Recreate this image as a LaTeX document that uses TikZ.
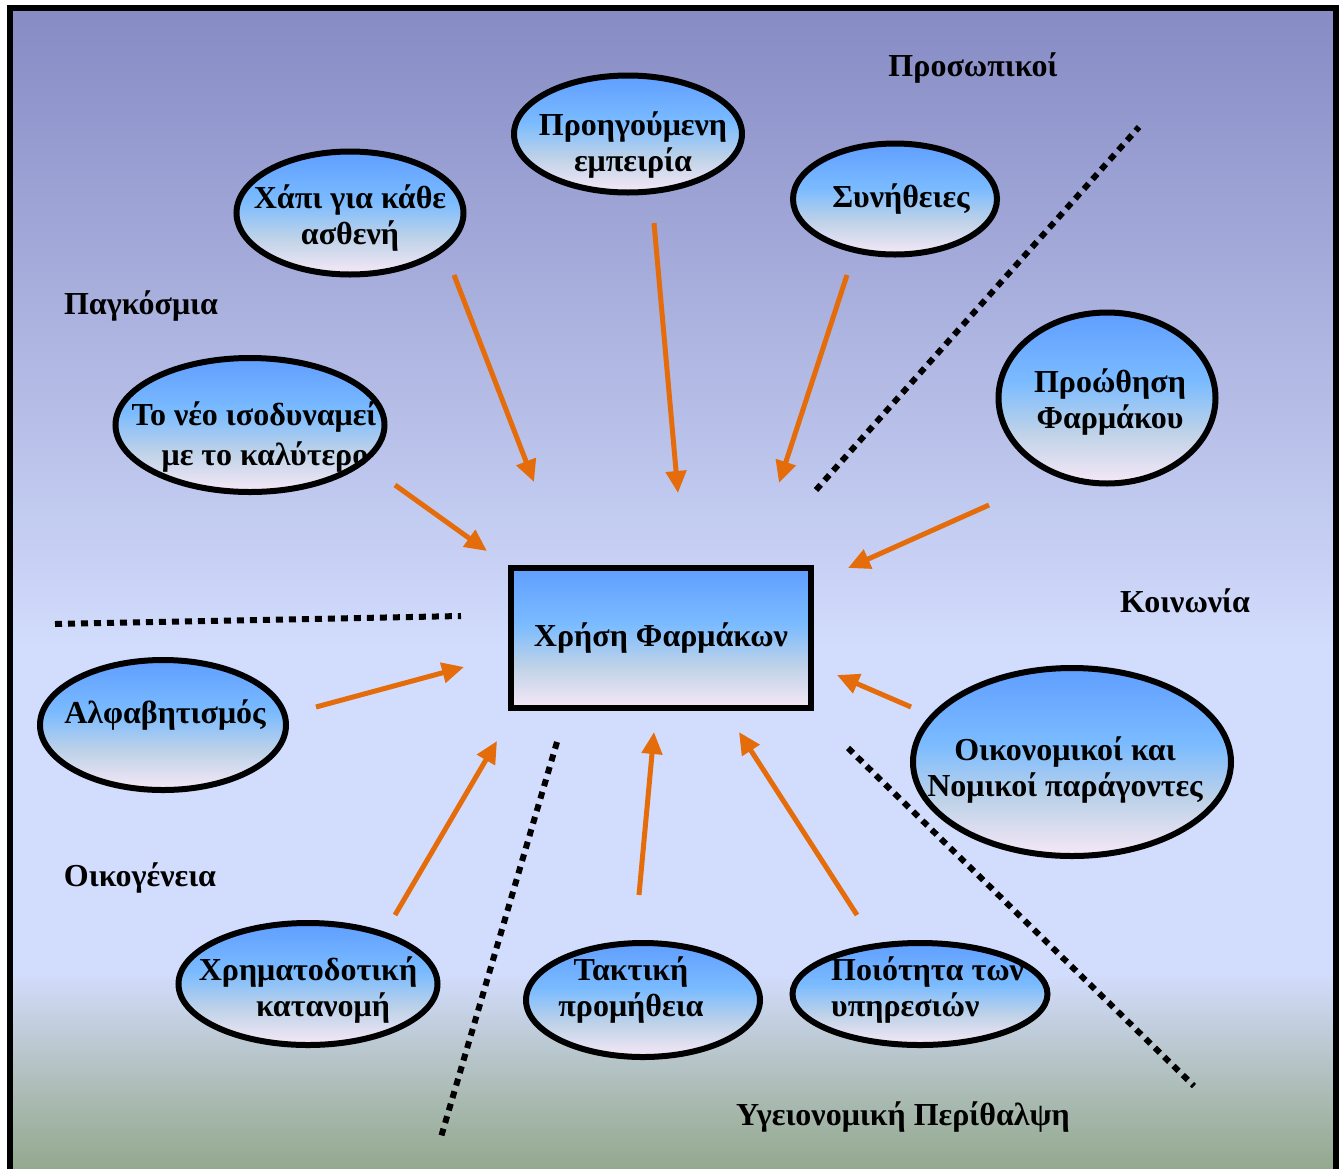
\documentclass[tikz,border=0pt]{standalone}
\usepackage{fontspec}
\setmainfont{Liberation Serif}
\usetikzlibrary{arrows.meta,shapes.geometric}

\definecolor{BgTop}{RGB}{134,139,196}
\definecolor{BgLight}{RGB}{210,220,252}
\definecolor{BgLow}{RGB}{172,188,182}
\definecolor{BgBot}{RGB}{146,168,140}
\definecolor{BubTop}{RGB}{96,158,255}
\definecolor{BubMid}{RGB}{122,187,255}
\definecolor{BubLow}{RGB}{190,210,232}
\definecolor{BubBot}{RGB}{246,232,246}
\definecolor{ArrowOrange}{RGB}{228,108,10}

\pgfdeclareverticalshading{backdrop}{100bp}{color(0bp)=(BgBot); color(25bp)=(BgBot);
  color(28.5bp)=(BgLow); color(33.5bp)=(BgLight); color(47.5bp)=(BgLight);
  color(75bp)=(BgTop); color(100bp)=(BgTop)}
\pgfdeclareverticalshading{bubblefill}{100bp}{color(0bp)=(BubBot); color(25bp)=(BubBot);
  color(40bp)=(BubLow); color(55bp)=(BubMid); color(75bp)=(BubTop); color(100bp)=(BubTop)}

\begin{document}
\begin{tikzpicture}[
    % Environment Config
    x=1pt, y=-1pt,
    font=\bfseries\fontsize{32}{36}\selectfont,
    Bubble/.style={% Style for the factor ellipses
      ellipse,
      draw,
      line width=6pt,
      shade,
      shading=bubblefill,
      inner sep=0pt
    },
    Caption/.style={% Style for the texts inside the ellipses
      align=center,
      inner sep=0pt
    },
    MainBox/.style={% Style for the central box
      rectangle,
      draw,
      line width=6.5pt,
      shade,
      shading=bubblefill,
      minimum width=300pt,
      minimum height=140pt
    },
    MyArrow/.style={% Style for the influence arrows
      -{Triangle[length=22pt,width=20pt]},
      draw=ArrowOrange,
      line width=5pt
    },
    Divider/.style={% Style for the dotted separators
      line width=6pt,
      dash pattern=on 7pt off 6pt
    },
    Region/.style={% Style for the group titles
      inner sep=0pt
    }
  ]

  \useasboundingbox (0,0) rectangle (1339,1168);

  % Background
  \shade[shading=backdrop] (10,8) rectangle (1336,1172);

  % Dotted separators
  \draw[Divider] (816,490) -- (1139,127);
  \draw[Divider] (55,624) -- (461,616);
  \draw[Divider] (557,742) -- (441,1137);
  \draw[Divider] (848,748) -- (1194,1086);

  % Put the central box
  \draw(661,638) node[MainBox](Xrisi){Χρήση Φαρμάκων};

  % Put the factor ellipses
  %===Personal===
  \draw(350,213) node[Bubble,minimum width=227pt,minimum height=123pt](Hapi){}
    (350,218) node[Caption](Hapi TEXT){Χάπι για κάθε\\ασθενή};
  \draw(628,134) node[Bubble,minimum width=228pt,minimum height=117pt](Empeiria){}
    (633,145) node[Caption](Empeiria TEXT){Προηγούμενη\\εμπειρία};
  \draw(895,199) node[Bubble,minimum width=204pt,minimum height=111pt](Synitheies){}
    (901,199) node[Caption](Synitheies TEXT){Συνήθειες};
  %===Global===
  \draw(250,425) node[Bubble,minimum width=269pt,minimum height=134pt](Neo){}
    (254,437) node[Caption](Neo TEXT){Το νέο ισοδυναμεί\\[4pt]\hspace*{22pt}με το καλύτερο};
  %===Society===
  \draw(1107,398) node[Bubble,minimum width=217pt,minimum height=171pt](Proothisi){}
    (1110,402) node[Caption](Proothisi TEXT){Προώθηση\\Φαρμάκου};
  \draw(1072,762) node[Bubble,minimum width=318pt,minimum height=188pt](Oikonomikoi){}
    (1065,770) node[Caption](Oikonomikoi TEXT){Οικονομικοί και\\Νομικοί παράγοντες};
  %===Family===
  \draw(163,725) node[Bubble,minimum width=246pt,minimum height=130pt](Alfavitismos){}
    (165,715) node[Caption](Alfavitismos TEXT){Αλφαβητισμός};
  \draw(308,984) node[Bubble,minimum width=259pt,minimum height=122pt](Katanomi){}
    (308,990) node[Caption](Katanomi TEXT){Χρηματοδοτική\\\hspace*{30pt}κατανομή};
  %===Health care===
  \draw(643,1000) node[Bubble,minimum width=234pt,minimum height=114pt](Promitheia){}
    (631,990) node[Caption](Promitheia TEXT){Τακτική\\προμήθεια};
  \draw(920,994) node[Bubble,minimum width=255pt,minimum height=102pt](Poiotita){}
    (831,990) node[Caption,align=left,anchor=west](Poiotita TEXT){Ποιότητα των\\υπηρεσιών};

  % Group titles
  \draw(973,68) node[Region](Prosopikoi){Προσωπικοί};
  \draw(141,306) node[Region](Pagkosmia){Παγκόσμια};
  \draw(1185,601) node[Region](Koinonia){Κοινωνία};
  \draw(140,878) node[Region](Oikogeneia){Οικογένεια};
  \draw(903,1117) node[Region](Ygeia){Υγειονομική Περίθαλψη};

  % Arrow ends
  \coordinate (Hapi OUT) at (454,275);
  \coordinate (Hapi TIP) at (534,482);
  \coordinate (Empeiria OUT) at (654,223);
  \coordinate (Empeiria TIP) at (678,493);
  \coordinate (Synitheies OUT) at (847,275);
  \coordinate (Synitheies TIP) at (779,483);
  \coordinate (Neo OUT) at (395,485);
  \coordinate (Neo TIP) at (487,551);
  \coordinate (Proothisi OUT) at (989,505);
  \coordinate (Proothisi TIP) at (848,568);
  \coordinate (Alfavitismos OUT) at (316,707);
  \coordinate (Alfavitismos TIP) at (464,667);
  \coordinate (Oikonomikoi OUT) at (911,707);
  \coordinate (Oikonomikoi TIP) at (837,675);
  \coordinate (Katanomi OUT) at (395,915);
  \coordinate (Katanomi TIP) at (497,741);
  \coordinate (Promitheia OUT) at (639,895);
  \coordinate (Promitheia TIP) at (654,732);
  \coordinate (Poiotita OUT) at (857,915);
  \coordinate (Poiotita TIP) at (739,732);

  % Draw the arrows
  \foreach \Src in {Hapi,Empeiria,Synitheies,Neo,Proothisi,Alfavitismos,Oikonomikoi,Katanomi,Promitheia,Poiotita}
    \draw[MyArrow] (\Src\space OUT) -- (\Src\space TIP);

  % Outer frame
  \draw[line width=6pt] (10,8) rectangle (1336,1172);

\end{tikzpicture}
\end{document}
